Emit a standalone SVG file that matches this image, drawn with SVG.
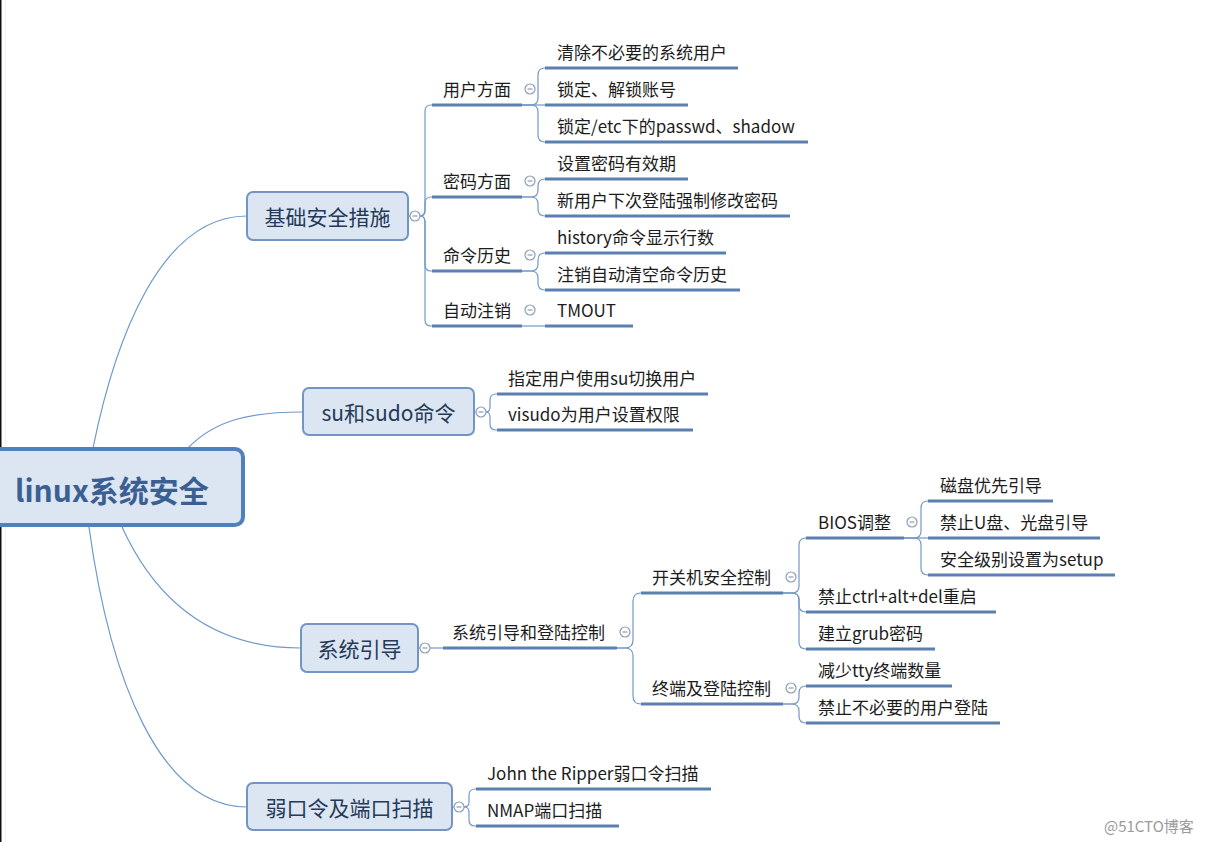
<svg xmlns="http://www.w3.org/2000/svg" width="1212" height="842" viewBox="0 0 1212 842">
<defs>
<style>
.bg{fill:#ffffff}
.t{font-family:"Noto Sans CJK SC","Microsoft YaHei",sans-serif;font-size:17px;fill:#1c1c1c;dominant-baseline:central}
.bt{font-family:"Noto Sans CJK SC","Microsoft YaHei",sans-serif;font-size:21px;fill:#243a58;dominant-baseline:central;text-anchor:middle}
.rt{font-family:"Noto Sans CJK SC","Microsoft YaHei",sans-serif;font-size:30px;font-weight:bold;fill:#3b5f92;dominant-baseline:central}
.node{fill:#dce6f2;stroke:#7295c4;stroke-width:2}
.root{fill:#dce6f2;stroke:#4f81bd;stroke-width:4}
.c{fill:none;stroke:#7098c8;stroke-width:1.2}
.ul{stroke:#5b80b0;stroke-width:3;fill:none}
.col{fill:#ffffff;stroke:#8c9db5;stroke-width:1.2}
.wm{font-family:"Noto Sans CJK SC","Microsoft YaHei",sans-serif;font-size:15px;fill:#9a9a9a;dominant-baseline:central}
</style>
<g id="collapse"><circle class="col" cx="0" cy="0" r="5"/><line x1="-2.5" y1="0" x2="2.5" y2="0" stroke="#8c9db5" stroke-width="1.2"/></g>
</defs>
<rect class="bg" x="0" y="0" width="1212" height="842"/>
<rect x="0" y="0" width="1.5" height="842" fill="#111"/>
<line x1="5.5" y1="0" x2="5.5" y2="842" stroke="#f0f0f0" stroke-width="1"/>

<g id="connectors">
<path class="c" d="M93,448 C115,340 160,216 247,216"/>
<path class="c" d="M188,448 C215,420 250,412 303,412"/>
<path class="c" d="M122,527 C160,610 220,648 301,648"/>
<path class="c" d="M89,527 C110,680 160,807 247,807"/>
<path class="c" d="M408,216 H410"/>
<path class="c" d="M420,216 Q425,216 425,210 V111 Q425,105 431,105 H432"/>
<path class="c" d="M420,216 Q425,216 425,210 V203 Q425,197 431,197 H432"/>
<path class="c" d="M420,216 Q425,216 425,222 V265 Q425,271 431,271 H432"/>
<path class="c" d="M420,216 Q425,216 425,222 V320 Q425,326 431,326 H432"/>
<path class="c" d="M522,105 H531 Q538,105 538,98 V75 Q538,68 545,68"/>
<path class="c" d="M522,105 H545"/>
<path class="c" d="M522,105 H531 Q538,105 538,112 V135 Q538,142 545,142"/>
<path class="c" d="M522,197 H531 Q538,197 538,190 V186 Q538,179 545,179"/>
<path class="c" d="M522,197 H531 Q538,197 538,204 V209 Q538,216 545,216"/>
<path class="c" d="M522,271 H531 Q538,271 538,264 V260 Q538,253 545,253"/>
<path class="c" d="M522,271 H531 Q538,271 538,278 V283 Q538,290 545,290"/>
<path class="c" d="M522,326 H545"/>
<path class="c" d="M474,412 H476"/>
<path class="c" d="M486,412 Q490,412 490,407 V400 Q490,394 496,394 H497"/>
<path class="c" d="M486,412 Q490,412 490,417 V424 Q490,430 496,430 H497"/>
<path class="c" d="M418,648 H420"/>
<path class="c" d="M430,648 H443"/>
<path class="c" d="M617,648 H625 Q633,648 633,640 V601 Q633,593 641,593"/>
<path class="c" d="M617,648 H625 Q633,648 633,656 V696 Q633,704 641,704"/>
<path class="c" d="M783,593 H792 Q799,593 799,586 V545 Q799,538 806,538"/>
<path class="c" d="M783,593 H792 Q799,593 799,600 V605 Q799,612 806,612"/>
<path class="c" d="M783,593 H792 Q799,593 799,600 V642 Q799,649 806,649"/>
<path class="c" d="M904,538 H914 Q921,538 921,531 V508 Q921,501 928,501"/>
<path class="c" d="M904,538 H928"/>
<path class="c" d="M904,538 H914 Q921,538 921,545 V568 Q921,575 928,575"/>
<path class="c" d="M783,704 H792 Q799,704 799,697 V693 Q799,686 806,686"/>
<path class="c" d="M783,704 H792 Q799,704 799,711 V716 Q799,723 806,723"/>
<path class="c" d="M452,807 H454"/>
<path class="c" d="M464,807 Q469,807 469,802 V795 Q469,789 475,789 H476"/>
<path class="c" d="M464,807 Q469,807 469,812 V820 Q469,826 475,826 H476"/>
</g>

<g id="root">
<rect class="root" x="-10" y="449" width="253" height="76" rx="8"/>
<text class="rt" x="15" y="489">linux系统安全</text>
</g>

<g id="n-jichu">
<rect class="node" x="247" y="192" width="161" height="48" rx="6"/>
<text class="bt" x="327.5" y="216">基础安全措施</text>
<use href="#collapse" x="415" y="216"/>
</g>
<g id="n-yonghu">
<text class="t" x="443" y="88">用户方面</text><line class="ul" x1="432" y1="105" x2="522" y2="105"/><use href="#collapse" x="530" y="89"/>
</g>
<g id="n-qingchu"><text class="t" x="557" y="51">清除不必要的系统用户</text><line class="ul" x1="545" y1="68" x2="738" y2="68"/></g>
<g id="n-suoding"><text class="t" x="557" y="88">锁定、解锁账号</text><line class="ul" x1="545" y1="105" x2="688" y2="105"/></g>
<g id="n-passwd"><text class="t" x="557" y="125">锁定/etc下的passwd、shadow</text><line class="ul" x1="545" y1="142" x2="808" y2="142"/></g>
<g id="n-mima">
<text class="t" x="443" y="180">密码方面</text><line class="ul" x1="432" y1="197" x2="522" y2="197"/><use href="#collapse" x="530" y="181"/>
</g>
<g id="n-youxiaoqi"><text class="t" x="557" y="162">设置密码有效期</text><line class="ul" x1="545" y1="179" x2="688" y2="179"/></g>
<g id="n-qiangzhi"><text class="t" x="557" y="199">新用户下次登陆强制修改密码</text><line class="ul" x1="545" y1="216" x2="790" y2="216"/></g>
<g id="n-lishi">
<text class="t" x="443" y="254">命令历史</text><line class="ul" x1="432" y1="271" x2="522" y2="271"/><use href="#collapse" x="530" y="255"/>
</g>
<g id="n-history"><text class="t" x="557" y="236">history命令显示行数</text><line class="ul" x1="545" y1="253" x2="726" y2="253"/></g>
<g id="n-qingkong"><text class="t" x="557" y="273">注销自动清空命令历史</text><line class="ul" x1="545" y1="290" x2="740" y2="290"/></g>
<g id="n-zidong">
<text class="t" x="443" y="309">自动注销</text><line class="ul" x1="432" y1="326" x2="522" y2="326"/><use href="#collapse" x="530" y="310"/>
</g>
<g id="n-tmout"><text class="t" x="557" y="309">TMOUT</text><line class="ul" x1="545" y1="326" x2="633" y2="326"/></g>

<g id="n-su">
<rect class="node" x="303" y="388" width="171" height="47" rx="6"/>
<text class="bt" x="388.5" y="411.5">su和sudo命令</text>
<use href="#collapse" x="481" y="412"/>
</g>
<g id="n-suqiehuan"><text class="t" x="508" y="377">指定用户使用su切换用户</text><line class="ul" x1="497" y1="394" x2="708" y2="394"/></g>
<g id="n-visudo"><text class="t" x="508" y="413">visudo为用户设置权限</text><line class="ul" x1="497" y1="430" x2="693" y2="430"/></g>

<g id="n-yindao">
<rect class="node" x="301" y="624" width="117" height="48" rx="6"/>
<text class="bt" x="359.5" y="648">系统引导</text>
<use href="#collapse" x="425" y="648"/>
</g>
<g id="n-yindaodenglu">
<text class="t" x="452" y="631">系统引导和登陆控制</text><line class="ul" x1="443" y1="648" x2="617" y2="648"/><use href="#collapse" x="625" y="632"/>
</g>
<g id="n-kaiguanji">
<text class="t" x="652" y="576">开关机安全控制</text><line class="ul" x1="641" y1="593" x2="783" y2="593"/><use href="#collapse" x="791" y="577"/>
</g>
<g id="n-bios">
<text class="t" x="818" y="521">BIOS调整</text><line class="ul" x1="806" y1="538" x2="904" y2="538"/><use href="#collapse" x="912" y="522"/>
</g>
<g id="n-cipan"><text class="t" x="940" y="484">磁盘优先引导</text><line class="ul" x1="928" y1="501" x2="1053" y2="501"/></g>
<g id="n-upan"><text class="t" x="940" y="521">禁止U盘、光盘引导</text><line class="ul" x1="928" y1="538" x2="1100" y2="538"/></g>
<g id="n-setup"><text class="t" x="940" y="558">安全级别设置为setup</text><line class="ul" x1="928" y1="575" x2="1115" y2="575"/></g>
<g id="n-ctrl"><text class="t" x="818" y="595">禁止ctrl+alt+del重启</text><line class="ul" x1="806" y1="612" x2="996" y2="612"/></g>
<g id="n-grub"><text class="t" x="818" y="632">建立grub密码</text><line class="ul" x1="806" y1="649" x2="935" y2="649"/></g>
<g id="n-zhongduan">
<text class="t" x="652" y="687">终端及登陆控制</text><line class="ul" x1="641" y1="704" x2="783" y2="704"/><use href="#collapse" x="791" y="688"/>
</g>
<g id="n-tty"><text class="t" x="818" y="669">减少tty终端数量</text><line class="ul" x1="806" y1="686" x2="952" y2="686"/></g>
<g id="n-denglu"><text class="t" x="818" y="706">禁止不必要的用户登陆</text><line class="ul" x1="806" y1="723" x2="1000" y2="723"/></g>

<g id="n-ruokouling">
<rect class="node" x="247" y="783" width="205" height="47" rx="6"/>
<text class="bt" x="349.5" y="806.5">弱口令及端口扫描</text>
<use href="#collapse" x="459" y="807"/>
</g>
<g id="n-john"><text class="t" x="487" y="772">John the Ripper弱口令扫描</text><line class="ul" x1="476" y1="789" x2="711" y2="789"/></g>
<g id="n-nmap"><text class="t" x="487" y="809">NMAP端口扫描</text><line class="ul" x1="476" y1="826" x2="619" y2="826"/></g>

<text class="wm" x="1104" y="825">@51CTO博客</text>
</svg>
